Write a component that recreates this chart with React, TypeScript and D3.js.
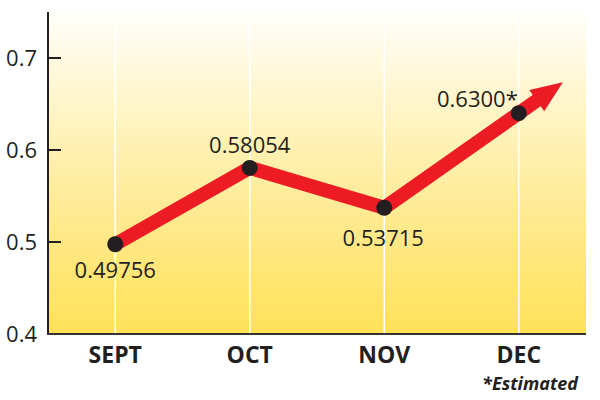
import React from "react";
import * as d3 from "d3";

const categories = ["SEPT", "OCT", "NOV", "DEC"];
const values = [0.49756, 0.58054, 0.53715, 0.64];
const valueLabels = ["0.49756", "0.58054", "0.53715", "0.6300*"];
const yTicks = [0.4, 0.5, 0.6, 0.7];
const footnote = "*Estimated";

const labelPlacement = [
  { dx: 0, dy: 34, anchor: "middle" },
  { dx: 0, dy: -15, anchor: "middle" },
  { dx: -1, dy: 38, anchor: "middle" },
  { dx: -1, dy: -6, anchor: "end" },
];

const W = 600;
const H = 400;
const left = 48;
const right = 586;
const top = 12;
const bottom = 334;
const font = "'Open Sans', 'DejaVu Sans', sans-serif";
const ink = "#231f20";

export default function App() {
  const x = d3.scalePoint<string>().domain(categories).range([left, right]).padding(0.5);
  const y = d3.scaleLinear().domain([0.4, 0.75]).range([bottom, top]);

  const pts = categories.map((c, i) => [x(c) as number, y(values[i])] as [number, number]);
  const n = pts.length;
  const [px, py] = pts[n - 2];
  const [lx, ly] = pts[n - 1];
  const len = Math.hypot(lx - px, ly - py);
  const ux = (lx - px) / len;
  const uy = (ly - py) / len;
  const baseDist = 22;
  const tipDist = 54;
  const half = 13;
  const bx = lx + ux * baseDist;
  const by = ly + uy * baseDist;
  const tx = lx + ux * tipDist;
  const ty = ly + uy * tipDist;
  const head = [
    [tx, ty],
    [bx - uy * half, by + ux * half],
    [bx + uy * half, by - ux * half],
  ];

  const line = d3.line<[number, number]>().x((d) => d[0]).y((d) => d[1]);
  const linePts: [number, number][] = [...pts, [bx + ux * 2, by + uy * 2]];

  return (
    <svg width={W} height={H} style={{ position: "absolute", left: 0, top: 0, background: "#fff" }}>
      <defs>
        <linearGradient id="bg" x1="0" y1="0" x2="0" y2="1">
          <stop offset="0" stopColor="#fffefa" />
          <stop offset="0.25" stopColor="#fff6cf" />
          <stop offset="0.6" stopColor="#ffeb96" />
          <stop offset="1" stopColor="#ffe157" />
        </linearGradient>
      </defs>
      <rect x={left} y={top} width={right - left} height={bottom - top} fill="url(#bg)" />
      {categories.map((c) => (
        <line key={c} x1={x(c)} x2={x(c)} y1={top} y2={bottom} stroke="#fff" strokeWidth={1.5} />
      ))}
      <line x1={left} x2={left} y1={top} y2={bottom + 1} stroke={ink} strokeWidth={2} />
      <line x1={left - 1} x2={right} y1={bottom} y2={bottom} stroke="#333" strokeWidth={2} />
      {yTicks.map((t) => (
        <g key={t}>
          {t > 0.4 && <line x1={left} x2={left + 13} y1={y(t)} y2={y(t)} stroke={ink} strokeWidth={2} />}
          <text
            x={37}
            y={y(t)}
            dy="0.38em"
            textAnchor="end"
            fontFamily={font}
            fontSize={22}
            fill={ink}
          >
            {d3.format(".1f")(t)}
          </text>
        </g>
      ))}
      {categories.map((c) => (
        <text
          key={c}
          x={x(c)}
          y={363}
          textAnchor="middle"
          fontFamily={font}
          fontWeight={700}
          fontSize={23}
          fill={ink}
        >
          {c}
        </text>
      ))}
      <text
        x={578}
        y={390}
        textAnchor="end"
        fontFamily={font}
        fontWeight={700}
        fontStyle="italic"
        fontSize={18}
        fill={ink}
      >
        {footnote}
      </text>
      <path d={line(linePts) || ""} fill="none" stroke="#ed1c24" strokeWidth={14} strokeLinejoin="miter" />
      <polygon points={head.map((p) => p.join(",")).join(" ")} fill="#ed1c24" />
      {pts.map(([cx, cy], i) => (
        <circle key={i} cx={cx} cy={cy} r={8} fill={ink} />
      ))}
      {pts.map(([cx, cy], i) => (
        <text
          key={"l" + i}
          x={cx + labelPlacement[i].dx}
          y={cy + labelPlacement[i].dy}
          textAnchor={labelPlacement[i].anchor}
          fontFamily={font}
          fontSize={22}
          fill={ink}
        >
          {valueLabels[i]}
        </text>
      ))}
    </svg>
  );
}
